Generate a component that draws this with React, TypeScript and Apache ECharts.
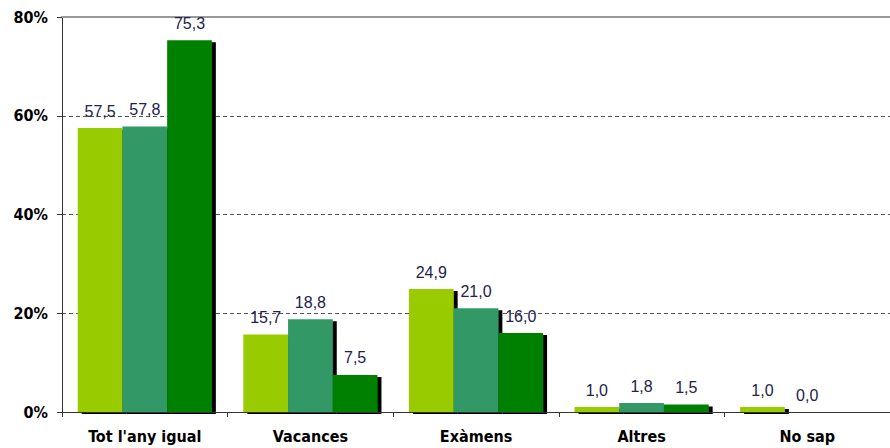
import React, { useEffect, useRef } from "react";
import * as echarts from "echarts";

const categories = ["Tot l'any igual", "Vacances", "Exàmens", "Altres", "No sap"];
const seriesA = [57.5, 15.7, 24.9, 1.0, 1.0];
const seriesB = [57.8, 18.8, 21.0, 1.8, 0.0];
const seriesC: (number | null)[] = [75.3, 7.5, 16.0, 1.5, null];
const yTicks = { min: 0, max: 80, interval: 20 };
const colors = ["#99CC00", "#339966", "#008000"];

export default function App() {
  const ref = useRef<HTMLDivElement>(null);
  useEffect(() => {
    if (!ref.current) return;
    const chart = echarts.init(ref.current, undefined, { renderer: "svg" });
    const mkSeries = (data: (number | null)[], color: string) => ({
      type: "bar",
      data,
      barGap: "0%",
      barCategoryGap: "19%",
      itemStyle: {
        color,
        shadowColor: "#000",
        shadowBlur: 0,
        shadowOffsetX: 4,
        shadowOffsetY: 2,
      },
      label: {
        show: true,
        position: "top",
        distance: 9,
        fontFamily: "Liberation Sans, Arial, sans-serif",
        fontSize: 16,
        color: "#22224a",
        formatter: (p: any) =>
          p.value === null || p.value === undefined ? "" : Number(p.value).toFixed(1).replace(".", ","),
      },
    });
    chart.setOption({
      animation: false,
      backgroundColor: "#fff",
      grid: { left: 62, top: 17, bottom: 36, width: 835, containLabel: false },
      xAxis: [
        {
          type: "category",
          data: categories,
          z: 5,
          axisLine: { lineStyle: { color: "#333", width: 1 } },
          axisTick: { show: true, length: 5, lineStyle: { color: "#333" } },
          axisLabel: {
            margin: 16,
            fontFamily: "DejaVu Sans Condensed, DejaVu Sans, sans-serif",
            fontWeight: "bold",
            fontSize: 16,
            color: "#000",
          },
        },
        {
          type: "category",
          position: "top",
          data: categories,
          axisLine: { show: true, lineStyle: { color: "#999", width: 2 } },
          axisTick: { show: false },
          axisLabel: { show: false },
        },
      ],
      yAxis: {
        type: "value",
        min: yTicks.min,
        max: yTicks.max,
        interval: yTicks.interval,
        axisLine: { show: true, lineStyle: { color: "#333" } },
        axisTick: { show: true, length: 5, lineStyle: { color: "#333" } },
        axisLabel: {
          formatter: "{value}%",
          margin: 14,
          fontFamily: "DejaVu Sans Condensed, DejaVu Sans, sans-serif",
          fontWeight: "bold",
          fontSize: 16,
          color: "#000",
        },
        splitLine: { show: true, lineStyle: { color: "#555", type: [4, 3], width: 1 } },
      },
      series: [mkSeries(seriesA, colors[0]), mkSeries(seriesB, colors[1]), mkSeries(seriesC, colors[2])],
    });
    return () => chart.dispose();
  }, []);
  return <div ref={ref} style={{ position: "fixed", left: 0, top: 0, width: 890, height: 448 }} />;
}
